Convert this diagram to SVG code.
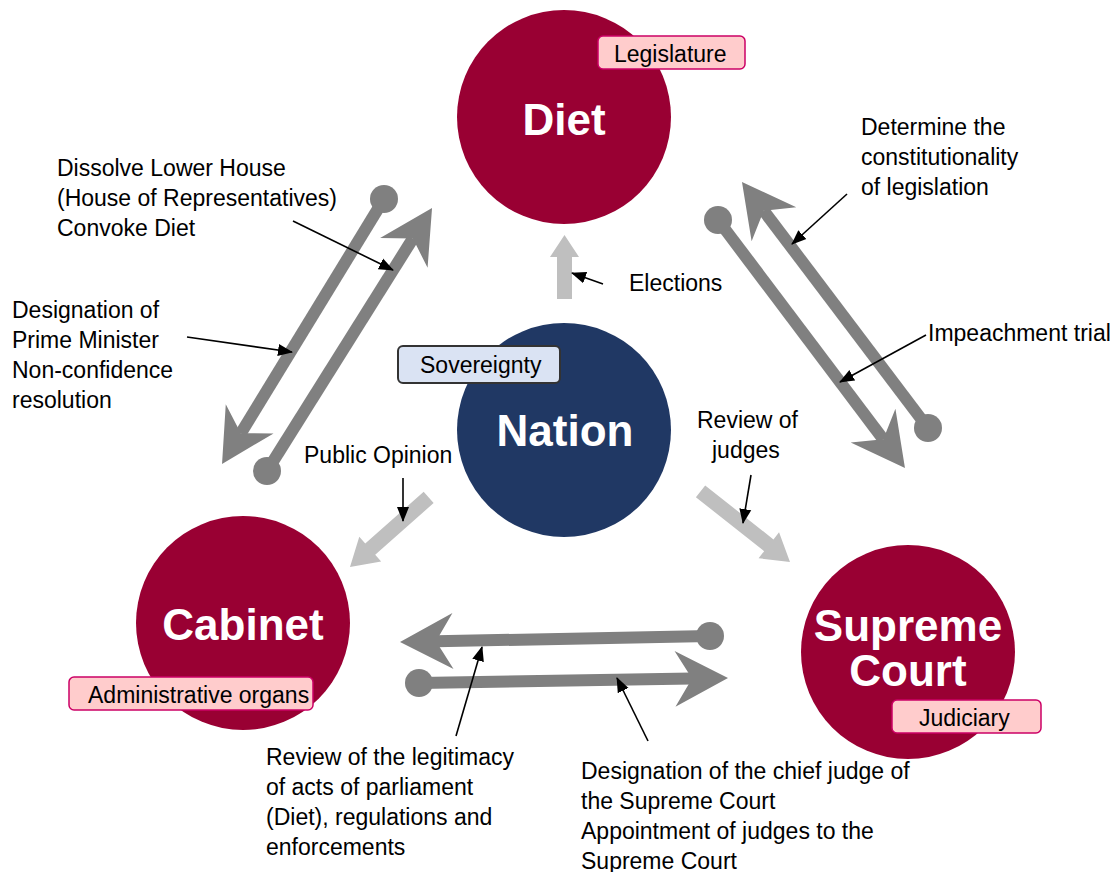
<svg xmlns="http://www.w3.org/2000/svg" width="1114" height="872" viewBox="0 0 1114 872">
<style>
.body{font-family:"Liberation Sans",Arial,sans-serif;font-size:23px;fill:#000}
.title{font-family:"Liberation Sans",Arial,sans-serif;font-size:44px;font-weight:bold;fill:#fff;text-anchor:middle}
.red{fill:#990033}
.navy{fill:#203864}
.tag{fill:#FFCCCC;stroke:#CC0066;stroke-width:1.5}
.tagb{fill:#DAE3F3;stroke:#333;stroke-width:2}
.g{stroke:#808080;stroke-width:12;fill:none;marker-end:url(#gh)}
.dot{fill:#808080}
.lg{fill:#BFBFBF}
.co{stroke:#000;stroke-width:1.6;fill:none;marker-end:url(#ah)}
</style>
<defs>
<marker id="gh" markerUnits="userSpaceOnUse" markerWidth="60" markerHeight="60" refX="20" refY="30" orient="auto" viewBox="0 0 60 60" overflow="visible"><path d="M56,30 L3,2 L20,30 L3,58 Z" fill="#808080"/></marker>
<marker id="ah" markerUnits="userSpaceOnUse" markerWidth="16" markerHeight="14" refX="14" refY="7" orient="auto" viewBox="0 0 16 14"><path d="M0,1 L15,7 L0,13 Z" fill="#000"/></marker>
</defs>
<rect width="1114" height="872" fill="#fff"/>

<g id="connectors">
<g id="elections-arrow"><polygon class="lg" points="557,299 572,299 572,257 579,257 564.5,235 550,257 557,257"/></g>
<g id="opinion-arrow"><polygon class="lg" transform="translate(350,567) rotate(138.5)" points="0,0 -27,-16.5 -27,-7.5 -105,-7.5 -105,7.5 -27,7.5 -27,16.5"/></g>
<g id="judges-arrow"><polygon class="lg" transform="translate(790,562) rotate(38.3)" points="0,0 -27,-16.5 -27,-7.5 -114,-7.5 -114,7.5 -27,7.5 -27,16.5"/></g>

<circle class="dot" cx="384" cy="199" r="14"/>
<line class="g" x1="384" y1="199" x2="240.8" y2="433.3"/>
<circle class="dot" cx="267" cy="471" r="14"/>
<line class="g" x1="267" y1="471" x2="412.9" y2="238.5"/>

<circle class="dot" cx="928" cy="428" r="14"/>
<line class="g" x1="928" y1="428" x2="763.7" y2="210.7"/>
<circle class="dot" cx="718" cy="220" r="14"/>
<line class="g" x1="718" y1="220" x2="883.3" y2="439.3"/>

<circle class="dot" cx="710" cy="636" r="14"/>
<line class="g" x1="710" y1="636" x2="436" y2="641.3"/>
<circle class="dot" cx="419" cy="683" r="14"/>
<line class="g" x1="419" y1="683" x2="692" y2="678.6"/>

<line class="co" x1="293" y1="221" x2="393" y2="270"/>
<line class="co" x1="187" y1="337" x2="292" y2="352"/>
<line class="co" x1="603" y1="284" x2="572" y2="273"/>
<line class="co" x1="847" y1="194" x2="792" y2="244"/>
<line class="co" x1="926" y1="335" x2="840" y2="382"/>
<line class="co" x1="403" y1="478" x2="403" y2="521"/>
<line class="co" x1="751" y1="475" x2="743" y2="523"/>
<line class="co" x1="456" y1="736" x2="482" y2="647"/>
<line class="co" x1="648" y1="741" x2="617" y2="678"/>
</g>

<g id="diet">
<circle class="red" cx="564" cy="117" r="107"/>
<text class="title" x="564" y="135">Diet</text>
<rect class="tag" x="598" y="36" width="147" height="33" rx="5"/>
<text class="body" x="614" y="62">Legislature</text>
</g>

<g id="nation">
<circle class="navy" cx="564" cy="430" r="107"/>
<text class="title" x="565" y="446">Nation</text>
<rect class="tagb" x="398" y="346" width="162" height="37" rx="5"/>
<text class="body" x="420" y="373">Sovereignty</text>
</g>

<g id="cabinet">
<circle class="red" cx="243" cy="623" r="107"/>
<text class="title" x="243" y="640">Cabinet</text>
<rect class="tag" x="69" y="677" width="244" height="33" rx="5"/>
<text class="body" x="88" y="703">Administrative organs</text>
</g>

<g id="supreme-court">
<circle class="red" cx="908" cy="652" r="107"/>
<text class="title" x="908" y="641">Supreme</text>
<text class="title" x="908" y="686">Court</text>
<rect class="tag" x="892" y="700" width="149" height="33" rx="5"/>
<text class="body" x="919" y="726">Judiciary</text>
</g>

<g id="labels">
<text class="body" x="57" y="176">Dissolve Lower House</text>
<text class="body" x="57" y="206">(House of Representatives)</text>
<text class="body" x="57" y="236">Convoke Diet</text>
<text class="body" x="12" y="318">Designation of</text>
<text class="body" x="12" y="348">Prime Minister</text>
<text class="body" x="12" y="378">Non-confidence</text>
<text class="body" x="12" y="408">resolution</text>
<text class="body" x="861" y="135">Determine the</text>
<text class="body" x="861" y="165">constitutionality</text>
<text class="body" x="861" y="195">of legislation</text>
<text class="body" x="928" y="341">Impeachment trial</text>
<text class="body" x="629" y="291">Elections</text>
<text class="body" x="697" y="428">Review of</text>
<text class="body" x="712" y="458">judges</text>
<text class="body" x="304" y="463">Public Opinion</text>
<text class="body" x="266" y="765">Review of the legitimacy</text>
<text class="body" x="266" y="795">of acts of parliament</text>
<text class="body" x="266" y="825">(Diet), regulations and</text>
<text class="body" x="266" y="855">enforcements</text>
<text class="body" x="581" y="779">Designation of the chief judge of</text>
<text class="body" x="581" y="809">the Supreme Court</text>
<text class="body" x="581" y="839">Appointment of judges to the</text>
<text class="body" x="581" y="869">Supreme Court</text>
</g>
</svg>
